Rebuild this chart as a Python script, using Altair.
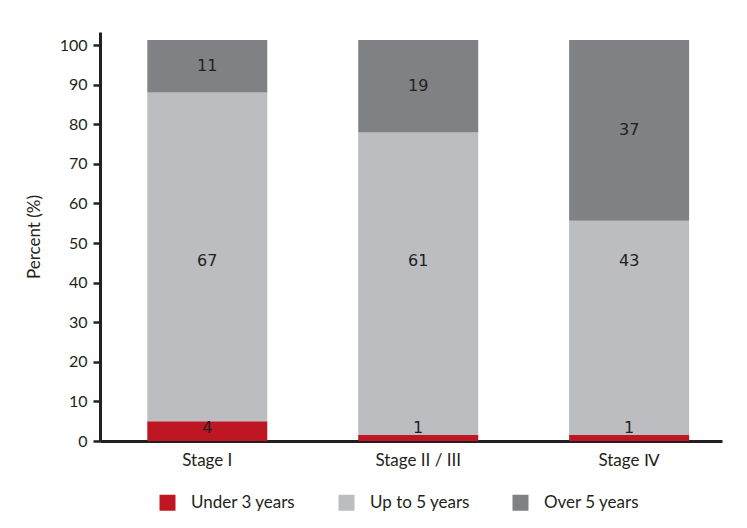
import altair as alt
import pandas as pd

stages = ["Stage I", "Stage II / III", "Stage Ⅳ"]
groups = ["Under 3 years", "Up to 5 years", "Over 5 years"]
colors = ["#be1622", "#bcbdc1", "#808185"]

# bar heights (percent)
under3_pct = [5.0, 1.5, 1.5]
upto5_pct = [83.0, 76.4, 54.1]
over5_pct = [13.3, 23.4, 45.7]
# printed counts
under3_n = [4, 1, 1]
upto5_n = [67, 61, 43]
over5_n = [11, 19, 37]

rows = []
for i, s in enumerate(stages):
    vals = [under3_pct[i], upto5_pct[i], over5_pct[i]]
    ns = [under3_n[i], upto5_n[i], over5_n[i]]
    y0 = 0.0
    for k, g in enumerate(groups):
        y1 = y0 + vals[k]
        if k == 0:
            ly = 3.3
        elif k == 1:
            ly = 45.5
        else:
            ly = (y0 + y1) / 2
        rows.append({"stage": s, "group": g, "order": k, "y0": y0, "y1": y1,
                     "n": ns[k], "ly": ly})
        y0 = y1
df = pd.DataFrame(rows)

FONT = "Lato"
TXT = "#231f20"

x = alt.X("stage:N", sort=stages, title=None,
          scale=alt.Scale(paddingInner=0.431, paddingOuter=0.19, align=0.59),
          axis=alt.Axis(labelAngle=0, ticks=False, labelFontSize=17, labelFont=FONT,
                        labelColor=TXT, labelPadding=11, domainColor=TXT, domainWidth=3))
yscale = alt.Scale(domain=[0, 103.3], nice=False)

bars = alt.Chart(df).mark_bar(width=120).encode(
    x=x,
    y=alt.Y("y0:Q", scale=yscale, title="Percent (%)",
            axis=alt.Axis(values=list(range(0, 101, 10)), grid=False, labelFontSize=16,
                          labelFont=FONT, labelColor=TXT, tickColor=TXT, tickWidth=2.5,
                          tickSize=7, labelPadding=6, domainColor=TXT, domainWidth=3,
                          titleFont=FONT, titleFontSize=17, titleFontWeight="normal",
                          titleColor=TXT, titlePadding=16)),
    y2="y1:Q",
    color=alt.Color("group:N", sort=groups,
                    scale=alt.Scale(domain=groups, range=colors),
                    legend=alt.Legend(title=None, orient="none", direction="horizontal",
                                      legendX=59, legendY=462, symbolType="square",
                                      symbolSize=256, symbolStrokeWidth=0,
                                      labelFont=FONT, labelFontSize=17, labelColor=TXT,
                                      labelOffset=15, columnPadding=42, symbolOpacity=1)),
    order="order:Q",
)

labels = alt.Chart(df).mark_text(font="DejaVu Sans", fontSize=16, color=TXT,
                                 baseline="middle").encode(
    x=alt.X("stage:N", sort=stages),
    y=alt.Y("ly:Q", scale=yscale),
    text="n:Q",
)

chart = (bars + labels).properties(
    width=622, height=409,
    padding={"left": 17, "top": 24, "right": 5, "bottom": 5},
).configure_view(stroke=None)

chart.save("out.html", embed_options={"renderer": "svg", "actions": False})
